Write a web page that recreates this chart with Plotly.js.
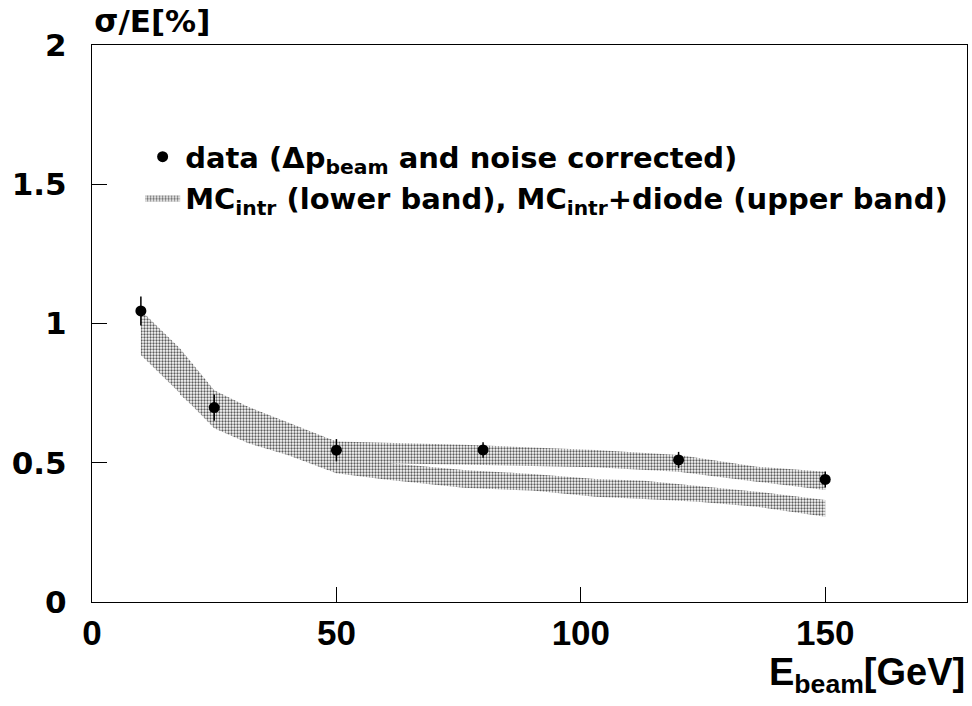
<!DOCTYPE html>
<html>
<head>
<meta charset="utf-8">
<script src="https://cdn.plot.ly/plotly-3.0.1.min.js"></script>
<style>html,body{margin:0;padding:0;background:#fff;}#chart{width:972px;height:706px;}</style>
</head>
<body>
<div id="chart"></div>
<script>
// Measured data points
const energies = [10, 25, 50, 80, 120, 150];
const resolution = [1.045, 0.698, 0.545, 0.546, 0.51, 0.44];
const resolutionErr = [0.052, 0.047, 0.04, 0.028, 0.029, 0.029];

// MC_intr band (lower band)
const intrX = [10, 18, 25, 32, 40, 50, 60, 76, 90, 103, 113, 124, 136, 150];
const intrHigh = [1.048, 0.91, 0.76, 0.70, 0.645, 0.575, 0.50, 0.474, 0.46, 0.442, 0.435, 0.417, 0.396, 0.366];
const intrLow = [0.887, 0.75, 0.624, 0.57, 0.528, 0.462, 0.44, 0.41, 0.40, 0.378, 0.37, 0.36, 0.342, 0.306];

// MC_intr + diode band (upper band)
const diodeX = [18, 25, 32, 40, 50, 60, 76, 90, 103, 120, 136, 150];
const diodeHigh = [0.755, 0.745, 0.70, 0.642, 0.576, 0.572, 0.565, 0.555, 0.546, 0.528, 0.486, 0.468];
const diodeLow = [0.745, 0.635, 0.59, 0.55, 0.51, 0.498, 0.492, 0.488, 0.484, 0.468, 0.432, 0.402];

const dataName = 'data (Δp<sub>beam</sub> and noise corrected)';
const bandName = 'MC<sub>intr</sub> (lower band), MC<sub>intr</sub>+diode (upper band)';

function bandPolygon(xs, hi, lo) {
  return {
    x: xs.concat(xs.slice().reverse()),
    y: hi.concat(lo.slice().reverse())
  };
}

const pattern = {shape: '.', fgcolor: '#5c5c5c', bgcolor: '#ffffff', size: 3, solidity: 0.45, fillmode: 'replace'};

const pIntr = bandPolygon(intrX, intrHigh, intrLow);
const pDiode = bandPolygon(diodeX, diodeHigh, diodeLow);

const traces = [
  {
    type: 'scatter', mode: 'lines', x: pIntr.x, y: pIntr.y,
    fill: 'toself', fillcolor: '#c0c0c0', fillpattern: pattern,
    line: {width: 0, color: 'rgba(0,0,0,0)'},
    name: bandName, showlegend: true, legendrank: 2, legendgroup: 'b', hoverinfo: 'skip'
  },
  {
    type: 'scatter', mode: 'lines', x: pDiode.x, y: pDiode.y,
    fill: 'toself', fillcolor: '#c0c0c0', fillpattern: pattern,
    line: {width: 0, color: 'rgba(0,0,0,0)'},
    name: bandName, showlegend: false, legendgroup: 'b', hoverinfo: 'skip'
  },
  {
    type: 'scatter', mode: 'markers', x: energies, y: resolution,
    error_y: {type: 'data', array: resolutionErr, visible: true, color: '#000', thickness: 1.5, width: 0},
    marker: {symbol: 'circle', size: 11, color: '#000'},
    name: dataName, legendrank: 1, legendgroup: 'a'
  }
];

const tickFontX = {family: 'Liberation Sans, Arial, sans-serif', size: 35, color: '#000', weight: 'bold'};
const tickFontY = {family: 'DejaVu Sans, sans-serif', size: 31, color: '#000', weight: 'bold'};

const layout = {
  width: 972, height: 706,
  paper_bgcolor: '#fff', plot_bgcolor: '#fff',
  margin: {l: 92, r: 5, t: 45, b: 104, autoexpand: false},
  showlegend: true,
  legend: {
    x: 0.055, y: 0.845, xanchor: 'left', yanchor: 'top',
    bgcolor: 'rgba(0,0,0,0)', borderwidth: 0,
    font: {family: 'DejaVu Sans, sans-serif', size: 29, color: '#000', weight: 'bold'},
    traceorder: 'normal', tracegroupgap: 4, itemwidth: 35
  },
  title: {
    text: 'σ/E[%]', xref: 'container', yref: 'container',
    x: 0.097, xanchor: 'left', y: 0.985, yanchor: 'top',
    font: {family: 'DejaVu Sans, sans-serif', size: 31, color: '#000', weight: 'bold'}
  },
  xaxis: {
    range: [0, 179], tickvals: [0, 50, 100, 150], ticktext: ['0', '50', '100', '150'],
    showgrid: false, zeroline: false, showline: true, mirror: true,
    linecolor: '#000', linewidth: 1.2, ticks: 'inside', ticklen: 15, tickwidth: 1, tickcolor: '#000',
    tickfont: tickFontX, ticklabelstandoff: 0
  },
  yaxis: {
    range: [0, 2], tickvals: [0, 0.5, 1, 1.5, 2], ticktext: ['0', '0.5', '1', '1.5', '2'],
    showgrid: false, zeroline: false, showline: true, mirror: true,
    linecolor: '#000', linewidth: 1.2, ticks: 'inside', ticklen: 15, tickwidth: 1, tickcolor: '#000',
    tickfont: tickFontY, ticklabelstandoff: 18
  },
  annotations: [
    {
      text: 'E<sub>beam</sub>[GeV]', xref: 'paper', yref: 'paper',
      x: 1.0, y: -0.177, xanchor: 'right', yanchor: 'bottom', showarrow: false,
      font: {family: 'Liberation Sans, Arial, sans-serif', size: 38, color: '#000', weight: 'bold'}
    }
  ]
};

Plotly.newPlot('chart', traces, layout, {displayModeBar: false, staticPlot: true});
</script>
</body>
</html>
